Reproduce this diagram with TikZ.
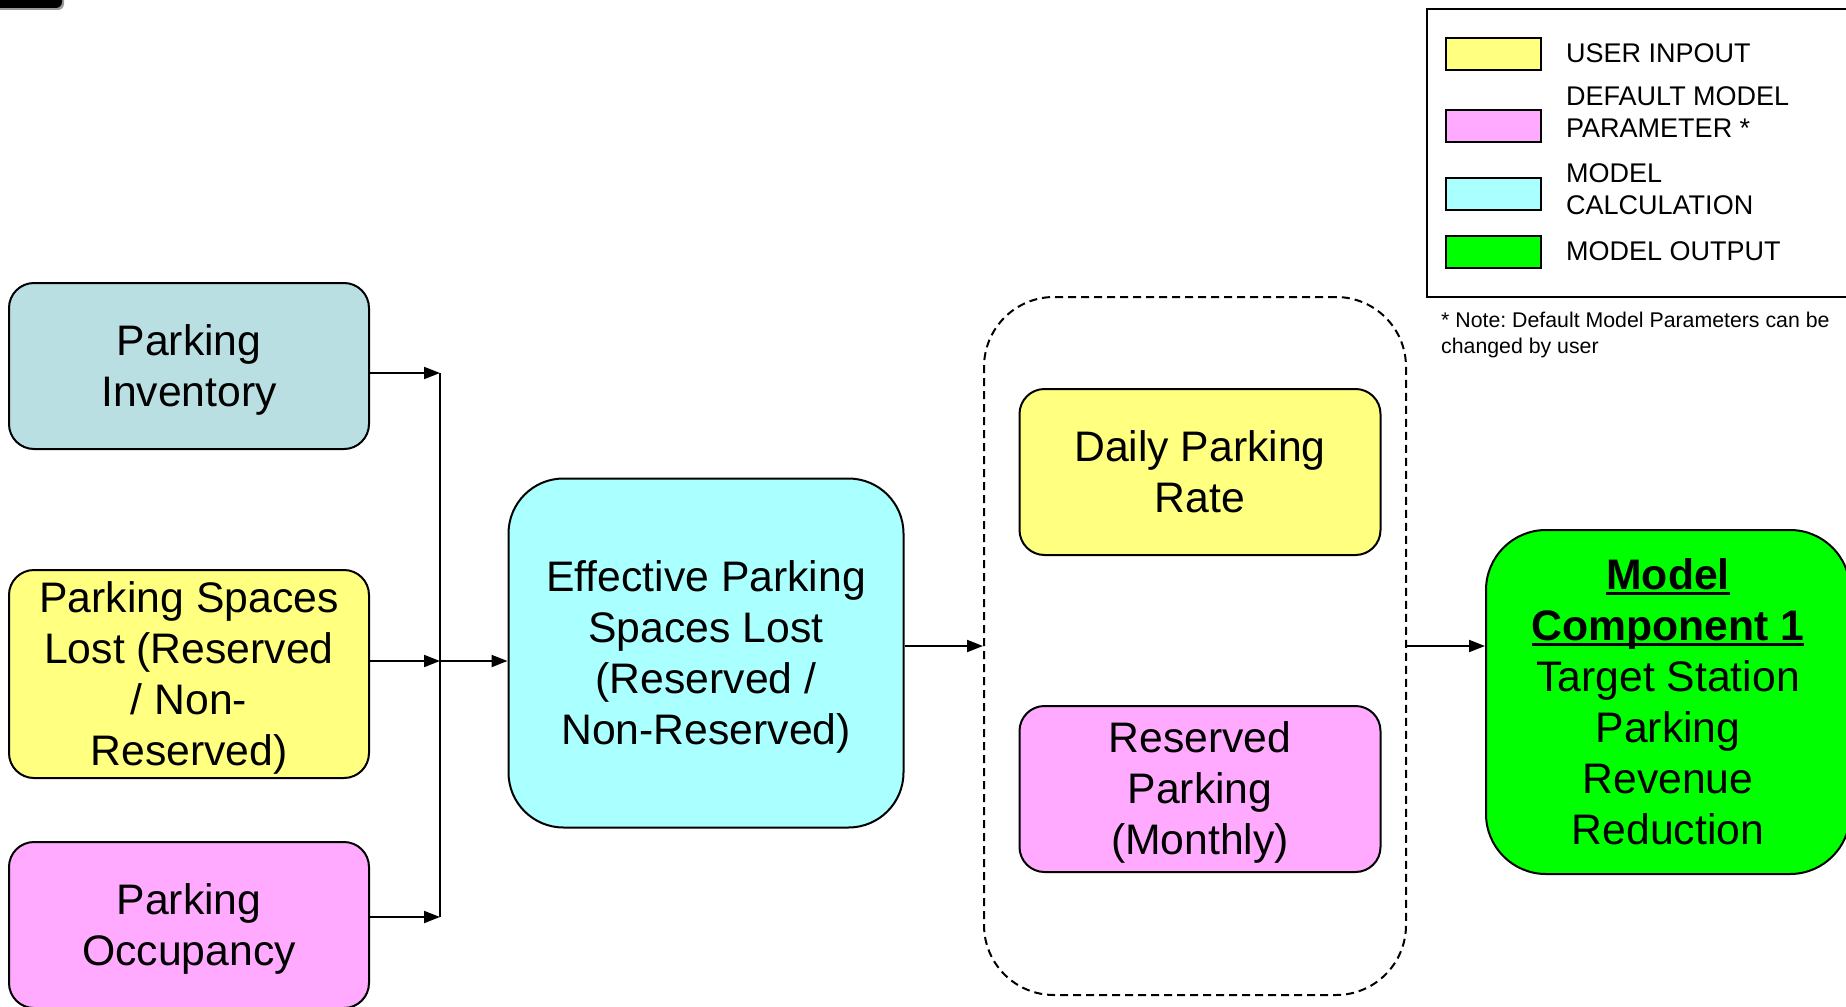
\documentclass[tikz,border=0pt]{standalone}
\usepackage{fontspec}
\setmainfont{Liberation Sans}
\usetikzlibrary{arrows.meta}
\definecolor{invblue}{RGB}{186,223,226}
\definecolor{inyellow}{RGB}{255,255,128}
\definecolor{parpink}{RGB}{255,170,255}
\definecolor{calccyan}{RGB}{170,255,255}
\definecolor{outgreen}{RGB}{0,255,0}
\newcommand{\ulbf}[1]{\setbox0\hbox{\bfseries #1}\leavevmode\rlap{\rule[-6pt]{\wd0}{3.5pt}}\box0}
\newcommand{\topst}{\rule{0pt}{38.5pt}}
\frenchspacing
\begin{document}
\begin{tikzpicture}[x=1pt,y=-1pt,
    box/.style={draw,line width=2pt,rounded corners=25pt,align=center,
      minimum width=360pt,minimum height=166pt,inner sep=0pt,
      font=\fontsize{42.7}{51}\selectfont,
      execute at end node={\rule[-9pt]{0pt}{9pt}}},
    arr/.style={-{Triangle[length=16pt,width=12pt]},line width=2pt},
    swatch/.style={draw,line width=2pt,minimum width=95pt,minimum height=32pt,inner sep=0pt},
    legtext/.style={anchor=west,align=left,inner sep=0pt,font=\fontsize{27}{32}\selectfont}]
  \useasboundingbox (0,0) rectangle (1846,1006);
  \fill [black!40, rounded corners=6pt] (-18,-28) rectangle (64,10);
  \fill [black, rounded corners=6pt] (-20,-30) rectangle (62,8);
  \node [box, fill=invblue] (inv) at (189,366) {\topst Parking\\Inventory};
  \node [box, fill=inyellow, minimum height=208pt] (lost) at (189,674)
    {\topst Parking Spaces\\Lost (Reserved\\/ Non-\\Reserved)};
  \node [box, fill=parpink] (occ) at (189,925) {\topst Parking\\Occupancy};
  \node [box, fill=calccyan, rounded corners=55pt, minimum width=395pt,
    minimum height=349pt] (eff) at (706,653)
    {\topst Effective Parking\\Spaces Lost\\(Reserved /\\Non-Reserved)};
  \node [draw, line width=2pt, dash pattern=on 8pt off 5pt, rounded corners=70pt,
    minimum width=422pt, minimum height=698pt] (grp) at (1195,646) {};
  \node [box, fill=inyellow, minimum width=361pt] (rate) at (1200,472)
    {\topst Daily Parking\\Rate};
  \node [box, fill=parpink, minimum width=361pt] (res) at (1200,789)
    {\topst Reserved\\Parking\\(Monthly)};
  \node [box, fill=outgreen, rounded corners=60pt, minimum width=364pt,
    minimum height=344pt] (out) at (1668,702)
    {\topst\ulbf{Model}\\\ulbf{Component 1}\\Target Station\\Parking\\Revenue\\Reduction};
  \draw [arr] ([yshift=-7pt]inv.east) -- ++(70,0) coordinate (btop);
  \draw [arr] ([yshift=13pt]lost.east) -- ++(70,0) coordinate (bmid);
  \draw [arr] ([yshift=8pt]occ.east) -- ++(70,0) coordinate (bbot);
  \draw [line width=2pt] (btop) -- (bbot);
  \draw [arr] (bmid) -- (eff.west |- bmid);
  \draw [arr] (eff.east |- grp.west) -- (grp.west);
  \draw [arr] (grp.east) -- (out.west |- grp.east);
  \draw [line width=2pt] (1427,9) rectangle (1870,297);
  \node [swatch, fill=inyellow] (s1) at (1493,54) {};
  \node [swatch, fill=parpink] (s2) at (1493,126) {};
  \node [swatch, fill=calccyan] (s3) at (1493,194) {};
  \node [swatch, fill=outgreen] (s4) at (1493,252) {};
  \node [legtext] (l1) at (1566,53) {USER INPOUT};
  \node [legtext] (l2) at (1566,112) {DEFAULT MODEL\\PARAMETER *};
  \node [legtext] (l3) at (1566,189) {MODEL\\CALCULATION};
  \node [legtext] (l4) at (1566,251) {MODEL OUTPUT};
  \node [anchor=west, align=left, inner sep=0pt, font=\fontsize{21.3}{26}\selectfont]
    (note) at (1441,335) {* Note: Default Model Parameters can be\\changed by user};
\end{tikzpicture}
\end{document}
